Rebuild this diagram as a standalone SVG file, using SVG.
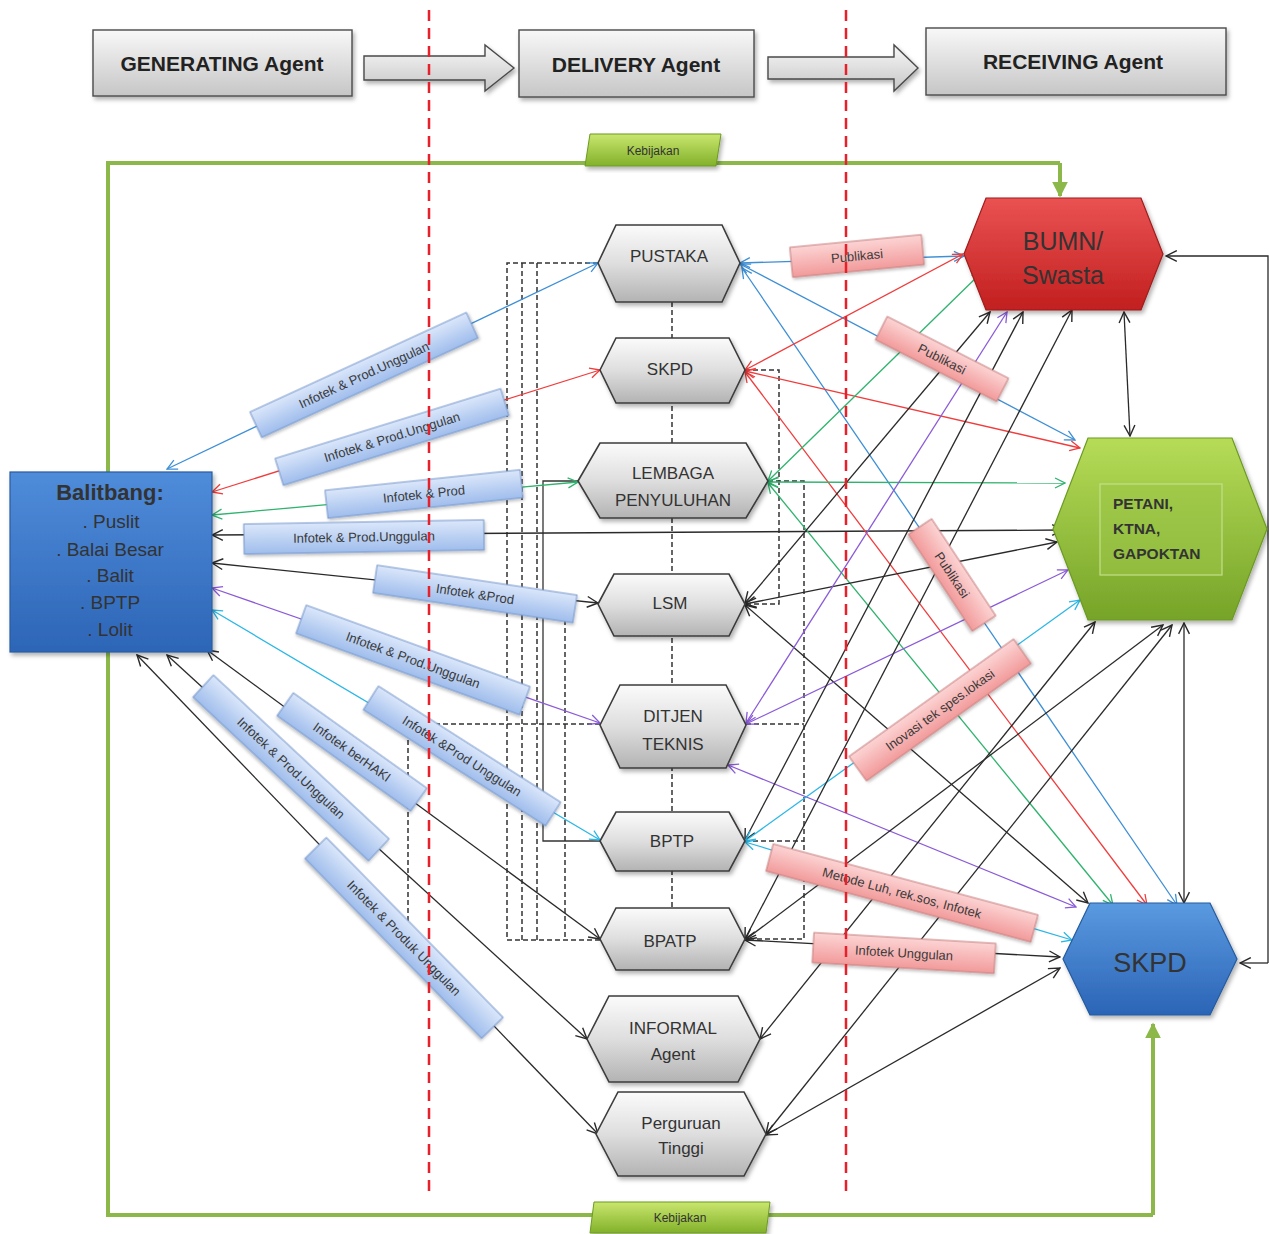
<svg xmlns="http://www.w3.org/2000/svg" width="1269" height="1234" viewBox="0 0 1269 1234">
<style>
text{font-family:"Liberation Sans",Arial,sans-serif;fill:#333}
.hx{fill:url(#gGrey);stroke:#3c3c3c;stroke-width:1.6;filter:url(#sh)}
.hdr{fill:url(#gHdr);stroke:#4a4a4a;stroke-width:1.4;filter:url(#sh)}
.nt{font-size:17px;text-anchor:middle}
.ht{font-size:21px;font-weight:bold;text-anchor:middle;fill:#222}
.lb{fill:url(#gLB);stroke:#7596cc;stroke-width:1;filter:url(#sh2)}
.lp{fill:url(#gPk);stroke:#c77f7f;stroke-width:1;filter:url(#sh2)}
.lt{font-size:13px;text-anchor:middle;fill:#3a3a3a}
.c{stroke-width:1.3;fill:none}
.cb{stroke:#3d8fd6;marker-start:url(#mB);marker-end:url(#mB)}
.cr{stroke:#f03c3c;marker-start:url(#mR);marker-end:url(#mR)}
.cg{stroke:#2fb36e;marker-start:url(#mG);marker-end:url(#mG)}
.cp{stroke:#8a5ad8;marker-start:url(#mP);marker-end:url(#mP)}
.cc{stroke:#2bb7e6;marker-start:url(#mC);marker-end:url(#mC)}
.ck{stroke:#2a2a2a;marker-start:url(#mK);marker-end:url(#mK)}
.ck1{stroke:#2a2a2a;marker-end:url(#mK)}
.dsh{stroke:#333;stroke-width:1.5;stroke-dasharray:5 3;fill:none}
.sol{stroke:#333;stroke-width:1.3;fill:none}
.rd{stroke:#e8202a;stroke-width:2.5;stroke-dasharray:11 7;fill:none}
.gl{stroke:#8cb84a;stroke-width:4;fill:none}
.keb{fill:url(#gKeb);stroke:#6d9a22;stroke-width:1;filter:url(#sh)}
</style>
<defs>
<filter id="sh" x="-10%" y="-10%" width="130%" height="130%"><feDropShadow dx="2" dy="3" stdDeviation="2" flood-color="#000" flood-opacity="0.3"/></filter>
<filter id="sh2" x="-10%" y="-20%" width="130%" height="150%"><feDropShadow dx="1" dy="2" stdDeviation="1.5" flood-color="#000" flood-opacity="0.25"/></filter>
<linearGradient id="gGrey" x1="0" y1="0" x2="0" y2="1"><stop offset="0" stop-color="#fbfbfb"/><stop offset="0.5" stop-color="#dedede"/><stop offset="1" stop-color="#b3b3b3"/></linearGradient>
<linearGradient id="gHdr" x1="0" y1="0" x2="0" y2="1"><stop offset="0" stop-color="#f8f8f8"/><stop offset="1" stop-color="#c6c6c6"/></linearGradient>
<linearGradient id="gRed" x1="0" y1="0" x2="0" y2="1"><stop offset="0" stop-color="#ea5252"/><stop offset="1" stop-color="#c21f1f"/></linearGradient>
<linearGradient id="gGrn" x1="0" y1="0" x2="0" y2="1"><stop offset="0" stop-color="#b6dc58"/><stop offset="1" stop-color="#76a428"/></linearGradient>
<linearGradient id="gBlu" x1="0" y1="0" x2="0" y2="1"><stop offset="0" stop-color="#5a9ae0"/><stop offset="1" stop-color="#2b64b6"/></linearGradient>
<linearGradient id="gBal" x1="0" y1="0" x2="0" y2="1"><stop offset="0" stop-color="#4f8cda"/><stop offset="1" stop-color="#2d65b6"/></linearGradient>
<linearGradient id="gLB" x1="0" y1="0" x2="0" y2="1"><stop offset="0" stop-color="#dbe7fa"/><stop offset="1" stop-color="#9fbdec"/></linearGradient>
<linearGradient id="gPk" x1="0" y1="0" x2="0" y2="1"><stop offset="0" stop-color="#fcd4d4"/><stop offset="1" stop-color="#f29a9a"/></linearGradient>
<linearGradient id="gKeb" x1="0" y1="0" x2="0" y2="1"><stop offset="0" stop-color="#c9e66e"/><stop offset="1" stop-color="#82b12a"/></linearGradient>
<marker id="mB" viewBox="0 0 12 12" refX="11" refY="6" markerWidth="12" markerHeight="12" markerUnits="userSpaceOnUse" orient="auto-start-reverse"><path d="M1,1 L11,6 L1,11" fill="none" stroke="#3d8fd6" stroke-width="1.3"/></marker>
<marker id="mR" viewBox="0 0 12 12" refX="11" refY="6" markerWidth="12" markerHeight="12" markerUnits="userSpaceOnUse" orient="auto-start-reverse"><path d="M1,1 L11,6 L1,11" fill="none" stroke="#f03c3c" stroke-width="1.3"/></marker>
<marker id="mG" viewBox="0 0 12 12" refX="11" refY="6" markerWidth="12" markerHeight="12" markerUnits="userSpaceOnUse" orient="auto-start-reverse"><path d="M1,1 L11,6 L1,11" fill="none" stroke="#2fb36e" stroke-width="1.3"/></marker>
<marker id="mP" viewBox="0 0 12 12" refX="11" refY="6" markerWidth="12" markerHeight="12" markerUnits="userSpaceOnUse" orient="auto-start-reverse"><path d="M1,1 L11,6 L1,11" fill="none" stroke="#8a5ad8" stroke-width="1.3"/></marker>
<marker id="mC" viewBox="0 0 12 12" refX="11" refY="6" markerWidth="12" markerHeight="12" markerUnits="userSpaceOnUse" orient="auto-start-reverse"><path d="M1,1 L11,6 L1,11" fill="none" stroke="#2bb7e6" stroke-width="1.3"/></marker>
<marker id="mK" viewBox="0 0 12 12" refX="11" refY="6" markerWidth="13" markerHeight="13" markerUnits="userSpaceOnUse" orient="auto-start-reverse"><path d="M1,1 L11,6 L1,11" fill="none" stroke="#2a2a2a" stroke-width="1.3"/></marker>
<marker id="mGr" viewBox="0 0 10 10" refX="9" refY="5" markerWidth="16" markerHeight="16" markerUnits="userSpaceOnUse" orient="auto"><path d="M0,0 L10,5 L0,10 Z" fill="#8cb84a"/></marker>
</defs>
<rect width="1269" height="1234" fill="#fff"/>

<!-- header -->
<g id="hdr-generating"><rect class="hdr" x="93" y="30" width="259" height="66"/><text class="ht" x="222" y="71">GENERATING Agent</text></g>
<g id="hdr-delivery"><rect class="hdr" x="519" y="30" width="235" height="67"/><text class="ht" x="636" y="72">DELIVERY Agent</text></g>
<g id="hdr-receiving"><rect class="hdr" x="926" y="28" width="300" height="67"/><text class="ht" x="1073" y="69">RECEIVING Agent</text></g>
<g id="hdr-arrows">
<polygon class="hdr" points="364,56 485,56 485,45 514,68 485,91 485,80 364,80"/>
<polygon class="hdr" points="768,57 894,57 894,45 918,68 894,91 894,79 768,79"/>
</g>

<!-- green kebijakan loop -->
<g id="kebijakan-loop">
<path class="gl" d="M1060,163 H108 V1215 H1153"/>
<path class="gl" d="M1060,163 V196" marker-end="url(#mGr)"/>
<path class="gl" d="M1153,1215 V1024" marker-end="url(#mGr)"/>
</g>

<!-- connectors -->
<g id="connectors">
<path class="dsh" d="M672,302 V908"/>
<path class="dsh" d="M598,263 H507 V940 H600"/>
<path class="dsh" d="M522,263 V940"/>
<path class="dsh" d="M537,263 V940"/>
<path class="dsh" d="M565,604 V940"/>
<path class="dsh" d="M600,724 H408 V940"/>
<path class="sol" d="M578,481 H543 V841 H600"/>
<path class="dsh" d="M745,370 H779 V604 H745"/>
<path class="dsh" d="M768,481 H804 V939 H745 M746,724 H804 M745,841 H804"/>

<line class="c cb" x1="167" y1="469" x2="598" y2="263"/>
<line class="c cr" x1="212" y1="492" x2="600" y2="370"/>
<line class="c cg" x1="212" y1="515" x2="578" y2="482"/>
<line class="c ck" x1="212" y1="535" x2="1063" y2="530"/>
<line class="c ck" x1="212" y1="563" x2="598" y2="603"/>
<line class="c cp" x1="212" y1="588" x2="600" y2="723"/>
<line class="c cc" x1="212" y1="610" x2="600" y2="840"/>
<line class="c ck" x1="207" y1="650" x2="600" y2="939"/>
<line class="c ck" x1="167" y1="655" x2="587" y2="1039"/>
<line class="c ck" x1="137" y1="655" x2="598" y2="1134"/>

<line class="c cb" x1="740" y1="263" x2="964" y2="256"/>
<line class="c cb" x1="740" y1="264" x2="1075" y2="440"/>
<line class="c cb" x1="742" y1="268" x2="1177" y2="905"/>
<line class="c cr" x1="745" y1="370" x2="963" y2="254"/>
<line class="c cr" x1="745" y1="371" x2="1080" y2="448"/>
<line class="c cr" x1="745" y1="372" x2="1147" y2="905"/>
<line class="c cg" x1="768" y1="481" x2="982" y2="272"/>
<line class="c cg" x1="768" y1="482" x2="1065" y2="483"/>
<line class="c cg" x1="768" y1="483" x2="1113" y2="905"/>
<line class="c ck" x1="745" y1="603" x2="990" y2="312"/>
<line class="c ck" x1="745" y1="604" x2="1057" y2="542"/>
<line class="c ck" x1="745" y1="605" x2="1088" y2="903"/>
<line class="c cp" x1="746" y1="723" x2="1007" y2="312"/>
<line class="c cp" x1="746" y1="724" x2="1068" y2="570"/>
<line class="c cp" x1="728" y1="765" x2="1076" y2="907"/>
<line class="c ck" x1="745" y1="840" x2="1023" y2="312"/>
<line class="c cc" x1="745" y1="841" x2="1080" y2="600"/>
<line class="c cc" x1="745" y1="842" x2="1072" y2="940"/>
<line class="c ck" x1="745" y1="939" x2="1072" y2="310"/>
<line class="c ck" x1="745" y1="940" x2="1163" y2="625"/>
<line class="c ck" x1="745" y1="940" x2="1060" y2="957"/>
<line class="c ck" x1="760" y1="1039" x2="1095" y2="622"/>
<line class="c ck" x1="766" y1="1134" x2="1172" y2="625"/>
<line class="c ck" x1="766" y1="1135" x2="1060" y2="968"/>

<line class="c ck" x1="1124" y1="312" x2="1130" y2="436"/>
<line class="c ck" x1="1184" y1="623" x2="1184" y2="903"/>
<path class="c ck1" d="M1268,963 V256 H1166"/>
<path class="c ck1" d="M1268,963 H1240"/>
</g>

<!-- labels on connectors -->
<g id="labels-left">
<g transform="translate(364,375) rotate(-24.7)"><rect class="lb" x="-119" y="-14" width="238" height="28"/><text class="lt" y="4.5">Infotek &amp; Prod.Unggulan</text></g>
<g transform="translate(392,437) rotate(-17.2)"><rect class="lb" x="-118" y="-14" width="236" height="28"/><text class="lt" y="4.5">Infotek &amp; Prod.Unggulan</text></g>
<g transform="translate(424,494) rotate(-6)"><rect class="lb" x="-98" y="-14" width="196" height="28"/><text class="lt" y="4.5">Infotek &amp; Prod</text></g>
<g transform="translate(364,537) rotate(-1)"><rect class="lb" x="-120" y="-15" width="240" height="30"/><text class="lt" y="4.5">Infotek &amp; Prod.Unggulan</text></g>
<g transform="translate(475,594) rotate(8.5)"><rect class="lb" x="-101" y="-14" width="202" height="28"/><text class="lt" y="4.5">Infotek &amp;Prod</text></g>
<g transform="translate(413,660) rotate(20)"><rect class="lb" x="-119" y="-15" width="238" height="30"/><text class="lt" y="4.5">Infotek &amp; Prod.Unggulan</text></g>
<g transform="translate(462,756) rotate(32.5)"><rect class="lb" x="-108" y="-14" width="216" height="28"/><text class="lt" y="4.5">Infotek &amp;Prod Unggulan</text></g>
<g transform="translate(352,752) rotate(35.5)"><rect class="lb" x="-82" y="-14" width="164" height="28"/><text class="lt" y="4.5">Infotek berHAKI</text></g>
<g transform="translate(291,768) rotate(43)"><rect class="lb" x="-120" y="-15" width="240" height="30"/><text class="lt" y="4.5">Infotek &amp; Prod.Unggulan</text></g>
<g transform="translate(404,938) rotate(45.5)"><rect class="lb" x="-126" y="-15" width="252" height="30"/><text class="lt" y="4.5">Infotek &amp; Produk Unggulan</text></g>
</g>
<g id="labels-right">
<g transform="translate(857,256) rotate(-5.5)"><rect class="lp" x="-66" y="-15" width="132" height="30"/><text class="lt" y="4.5">Publikasi</text></g>
<g transform="translate(942,359) rotate(27)"><rect class="lp" x="-68" y="-13" width="136" height="26"/><text class="lt" y="4.5">Publikasi</text></g>
<g transform="translate(952,575) rotate(56.5)"><rect class="lp" x="-58" y="-14" width="116" height="28"/><text class="lt" y="4.5">Publikasi</text></g>
<g transform="translate(940,710) rotate(-35.5)"><rect class="lp" x="-101" y="-15" width="202" height="30"/><text class="lt" y="4.5">Inovasi  tek spes.lokasi</text></g>
<g transform="translate(902,893) rotate(15)"><rect class="lp" x="-137" y="-14" width="274" height="28"/><text class="lt" y="4.5">Metode Luh, rek.sos, Infotek</text></g>
<g transform="translate(904,953) rotate(3.4)"><rect class="lp" x="-91" y="-15" width="182" height="30"/><text class="lt" y="4.5">Infotek Unggulan</text></g>
</g>

<!-- kebijakan labels -->
<g id="kebijakan-top"><polygon class="keb" points="590,134 721,134 716,166 585,166"/><text x="653" y="155" font-size="12" text-anchor="middle" fill="#333">Kebijakan</text></g>
<g id="kebijakan-bottom"><polygon class="keb" points="594,1202 770,1202 766,1233 590,1233"/><text x="680" y="1222" font-size="12" text-anchor="middle" fill="#333">Kebijakan</text></g>

<!-- red dashed separators -->
<g id="separators">
<line class="rd" x1="429" y1="10" x2="429" y2="1195"/>
<line class="rd" x1="846" y1="10" x2="846" y2="1195"/>
</g>

<!-- generating -->
<g id="balitbang">
<rect x="10" y="472" width="202" height="180" fill="url(#gBal)" stroke="#2a5aa0" stroke-width="1.2" filter="url(#sh)"/>
<text x="110" y="500" font-size="22" font-weight="bold" text-anchor="middle" fill="#0e1a36">Balitbang:</text>
<text x="111" y="528" font-size="19" text-anchor="middle" fill="#10244e">. Puslit</text>
<text x="110" y="556" font-size="19" text-anchor="middle" fill="#10244e">. Balai Besar</text>
<text x="110" y="582" font-size="19" text-anchor="middle" fill="#10244e">. Balit</text>
<text x="110" y="609" font-size="19" text-anchor="middle" fill="#10244e">. BPTP</text>
<text x="110" y="636" font-size="19" text-anchor="middle" fill="#10244e">. Lolit</text>
</g>

<!-- delivery nodes -->
<g id="n-pustaka"><polygon class="hx" points="598,263 616,225 722,225 740,263 722,302 616,302"/><text class="nt" x="669" y="262">PUSTAKA</text></g>
<g id="n-skpd"><polygon class="hx" points="600,370 616,338 729,338 745,370 729,403 616,403"/><text class="nt" x="670" y="375" font-size="16">SKPD</text></g>
<g id="n-lembaga"><polygon class="hx" points="578,481 600,443 746,443 768,481 746,518 600,518"/><text class="nt" x="673" y="479" font-size="18">LEMBAGA</text><text class="nt" x="673" y="506">PENYULUHAN</text></g>
<g id="n-lsm"><polygon class="hx" points="598,604 614,574 729,574 745,604 729,636 614,636"/><text class="nt" x="670" y="609" font-size="18">LSM</text></g>
<g id="n-ditjen"><polygon class="hx" points="600,725 620,685 726,685 746,725 726,768 620,768"/><text class="nt" x="673" y="722">DITJEN</text><text class="nt" x="673" y="750">TEKNIS</text></g>
<g id="n-bptp"><polygon class="hx" points="600,841 616,812 729,812 745,841 729,871 616,871"/><text class="nt" x="672" y="847">BPTP</text></g>
<g id="n-bpatp"><polygon class="hx" points="600,939 616,908 729,908 745,939 729,970 616,970"/><text class="nt" x="670" y="947" font-size="20">BPATP</text></g>
<g id="n-informal"><polygon class="hx" points="587,1039 609,996 738,996 760,1039 738,1082 609,1082"/><text class="nt" x="673" y="1034">INFORMAL</text><text class="nt" x="673" y="1060">Agent</text></g>
<g id="n-perguruan"><polygon class="hx" points="596,1134 618,1092 744,1092 766,1134 744,1176 618,1176"/><text class="nt" x="681" y="1129">Perguruan</text><text class="nt" x="681" y="1154">Tinggi</text></g>

<!-- receiving nodes -->
<g id="n-bumn"><polygon points="964,254 986,198 1141,198 1163,254 1141,310 986,310" fill="url(#gRed)" stroke="#9e1c1c" stroke-width="1.2" filter="url(#sh)"/><text x="1063" y="250" font-size="25" text-anchor="middle" fill="#3e0c0c">BUMN/</text><text x="1063" y="284" font-size="25" text-anchor="middle" fill="#3e0c0c">Swasta</text></g>
<g id="n-petani"><polygon points="1053,529 1088,438 1232,438 1267,529 1232,620 1088,620" fill="url(#gGrn)" stroke="#6b9a22" stroke-width="1.2" filter="url(#sh)"/><rect x="1100" y="484" width="122" height="91" fill="#9cc548" fill-opacity="0.5" stroke="#c3df8a" stroke-width="1.2"/><text x="1113" y="509" font-size="15.5" font-weight="bold" fill="#2a3510">PETANI,</text><text x="1113" y="534" font-size="15.5" font-weight="bold" fill="#2a3510">KTNA,</text><text x="1113" y="559" font-size="15.5" font-weight="bold" fill="#2a3510">GAPOKTAN</text></g>
<g id="n-skpd-r"><polygon points="1063,959 1090,903 1210,903 1237,959 1210,1015 1090,1015" fill="url(#gBlu)" stroke="#245a9e" stroke-width="1.2" filter="url(#sh)"/><text x="1150" y="972" font-size="27" text-anchor="middle" fill="#e8f0fc">SKPD</text></g>
</svg>
